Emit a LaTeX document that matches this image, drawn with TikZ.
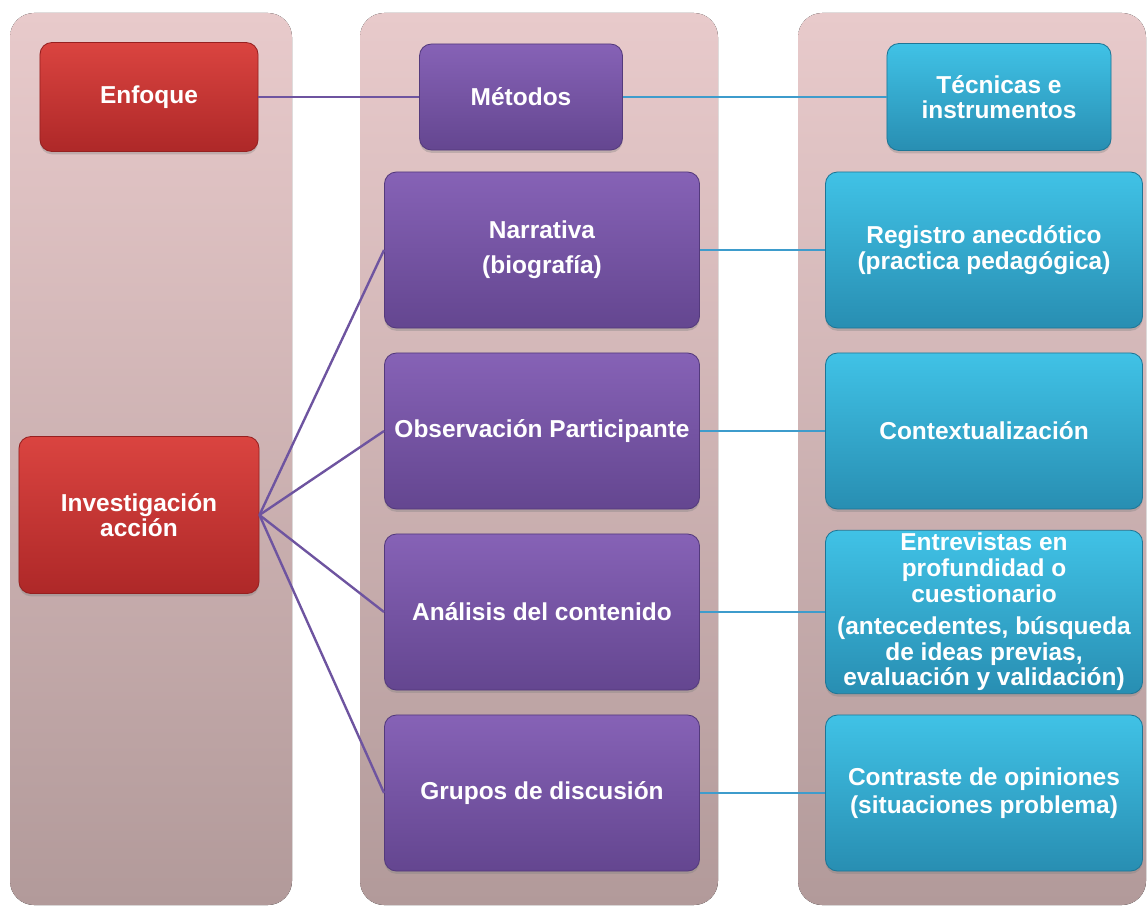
\documentclass[tikz,border=0pt]{standalone}
\usepackage{fontspec}
\setmainfont{Liberation Sans}
\usetikzlibrary{shadows}
\definecolor{panelTop}{RGB}{232,202,203}
\definecolor{panelBot}{RGB}{178,154,154}
\definecolor{redTop}{RGB}{218,68,64}
\definecolor{redBot}{RGB}{174,40,40}
\definecolor{redEdge}{RGB}{150,32,32}
\definecolor{purTop}{RGB}{134,98,182}
\definecolor{purBot}{RGB}{100,70,144}
\definecolor{purEdge}{RGB}{84,58,124}
\definecolor{bluTop}{RGB}{64,194,230}
\definecolor{bluBot}{RGB}{40,142,178}
\definecolor{bluEdge}{RGB}{30,118,150}
\definecolor{purLine}{RGB}{110,84,160}
\definecolor{bluLine}{RGB}{62,156,204}
\tikzset{
	box/.style={rounded corners=0.3cm,align=center,text=white,inner sep=2pt,
		font=\bfseries\fontsize{17.4}{18.2}\selectfont,line width=0.6pt,
		drop shadow={shadow xshift=0pt,shadow yshift=-2pt,opacity=0.35}},
	redbox/.style={box,draw=redEdge,top color=redTop,bottom color=redBot},
	purbox/.style={box,draw=purEdge,top color=purTop,bottom color=purBot},
	blubox/.style={box,draw=bluEdge,top color=bluTop,bottom color=bluBot},
	midbox/.style={purbox,minimum width=7.875cm,minimum height=3.9cm},
	rightbox/.style={blubox,minimum width=7.925cm,minimum height=3.9cm},
	panel/.style={top color=panelTop,bottom color=panelBot,rounded corners=0.6cm},
	purlink/.style={draw=purLine,line width=1.7pt},
	blulink/.style={draw=bluLine,line width=1.7pt}
}
\begin{document}
\begin{tikzpicture}[x=0.025cm,y=-0.025cm]
	\useasboundingbox (0,0) rectangle (1148,907);
	\fill[panel] (10,13) rectangle (292,905);
	\fill[panel] (360,13) rectangle (718,905);
	\fill[panel] (798,13) rectangle (1146,905);

	\node[redbox,minimum width=5.45cm,minimum height=2.725cm] at (149,97)(enf){Enfoque};
	\node[redbox,minimum width=6cm,minimum height=3.925cm] at (139,515)(inv){Investigación\\acción};

	\node[purbox,minimum width=5.075cm,minimum height=2.65cm] at (521,97)(met){Métodos};
	\node[midbox] at (542,250)(nar){Narrativa\\[7pt](biografía)};
	\node[midbox] at (542,431)(obs){Observación Participante};
	\node[midbox] at (542,612)(ana){Análisis del contenido};
	\node[midbox] at (542,793)(gru){Grupos de discusión};

	\node[blubox,minimum width=5.6cm,minimum height=2.675cm] at (999,97)(tec){Técnicas e\\instrumentos};
	\node[rightbox] at (984,250)(reg){Registro anecdótico\\(practica pedagógica)};
	\node[rightbox] at (984,431)(con){Contextualización};
	\node[rightbox] at (984,612)(ent){Entrevistas en\\profundidad o\\cuestionario\\[5pt](antecedentes, búsqueda\\de ideas previas,\\evaluación y validación)};
	\node[rightbox] at (984,793)(cop){Contraste de opiniones\\[2pt](situaciones problema)};

	\path[purlink]
		(enf.east) edge (met.west)
		(inv.east) edge (nar.west)
		(inv.east) edge (obs.west)
		(inv.east) edge (ana.west)
		(inv.east) edge (gru.west);
	\path[blulink]
		(met.east) edge (tec.west)
		(nar.east) edge (reg.west)
		(obs.east) edge (con.west)
		(ana.east) edge (ent.west)
		(gru.east) edge (cop.west);
\end{tikzpicture}
\end{document}
